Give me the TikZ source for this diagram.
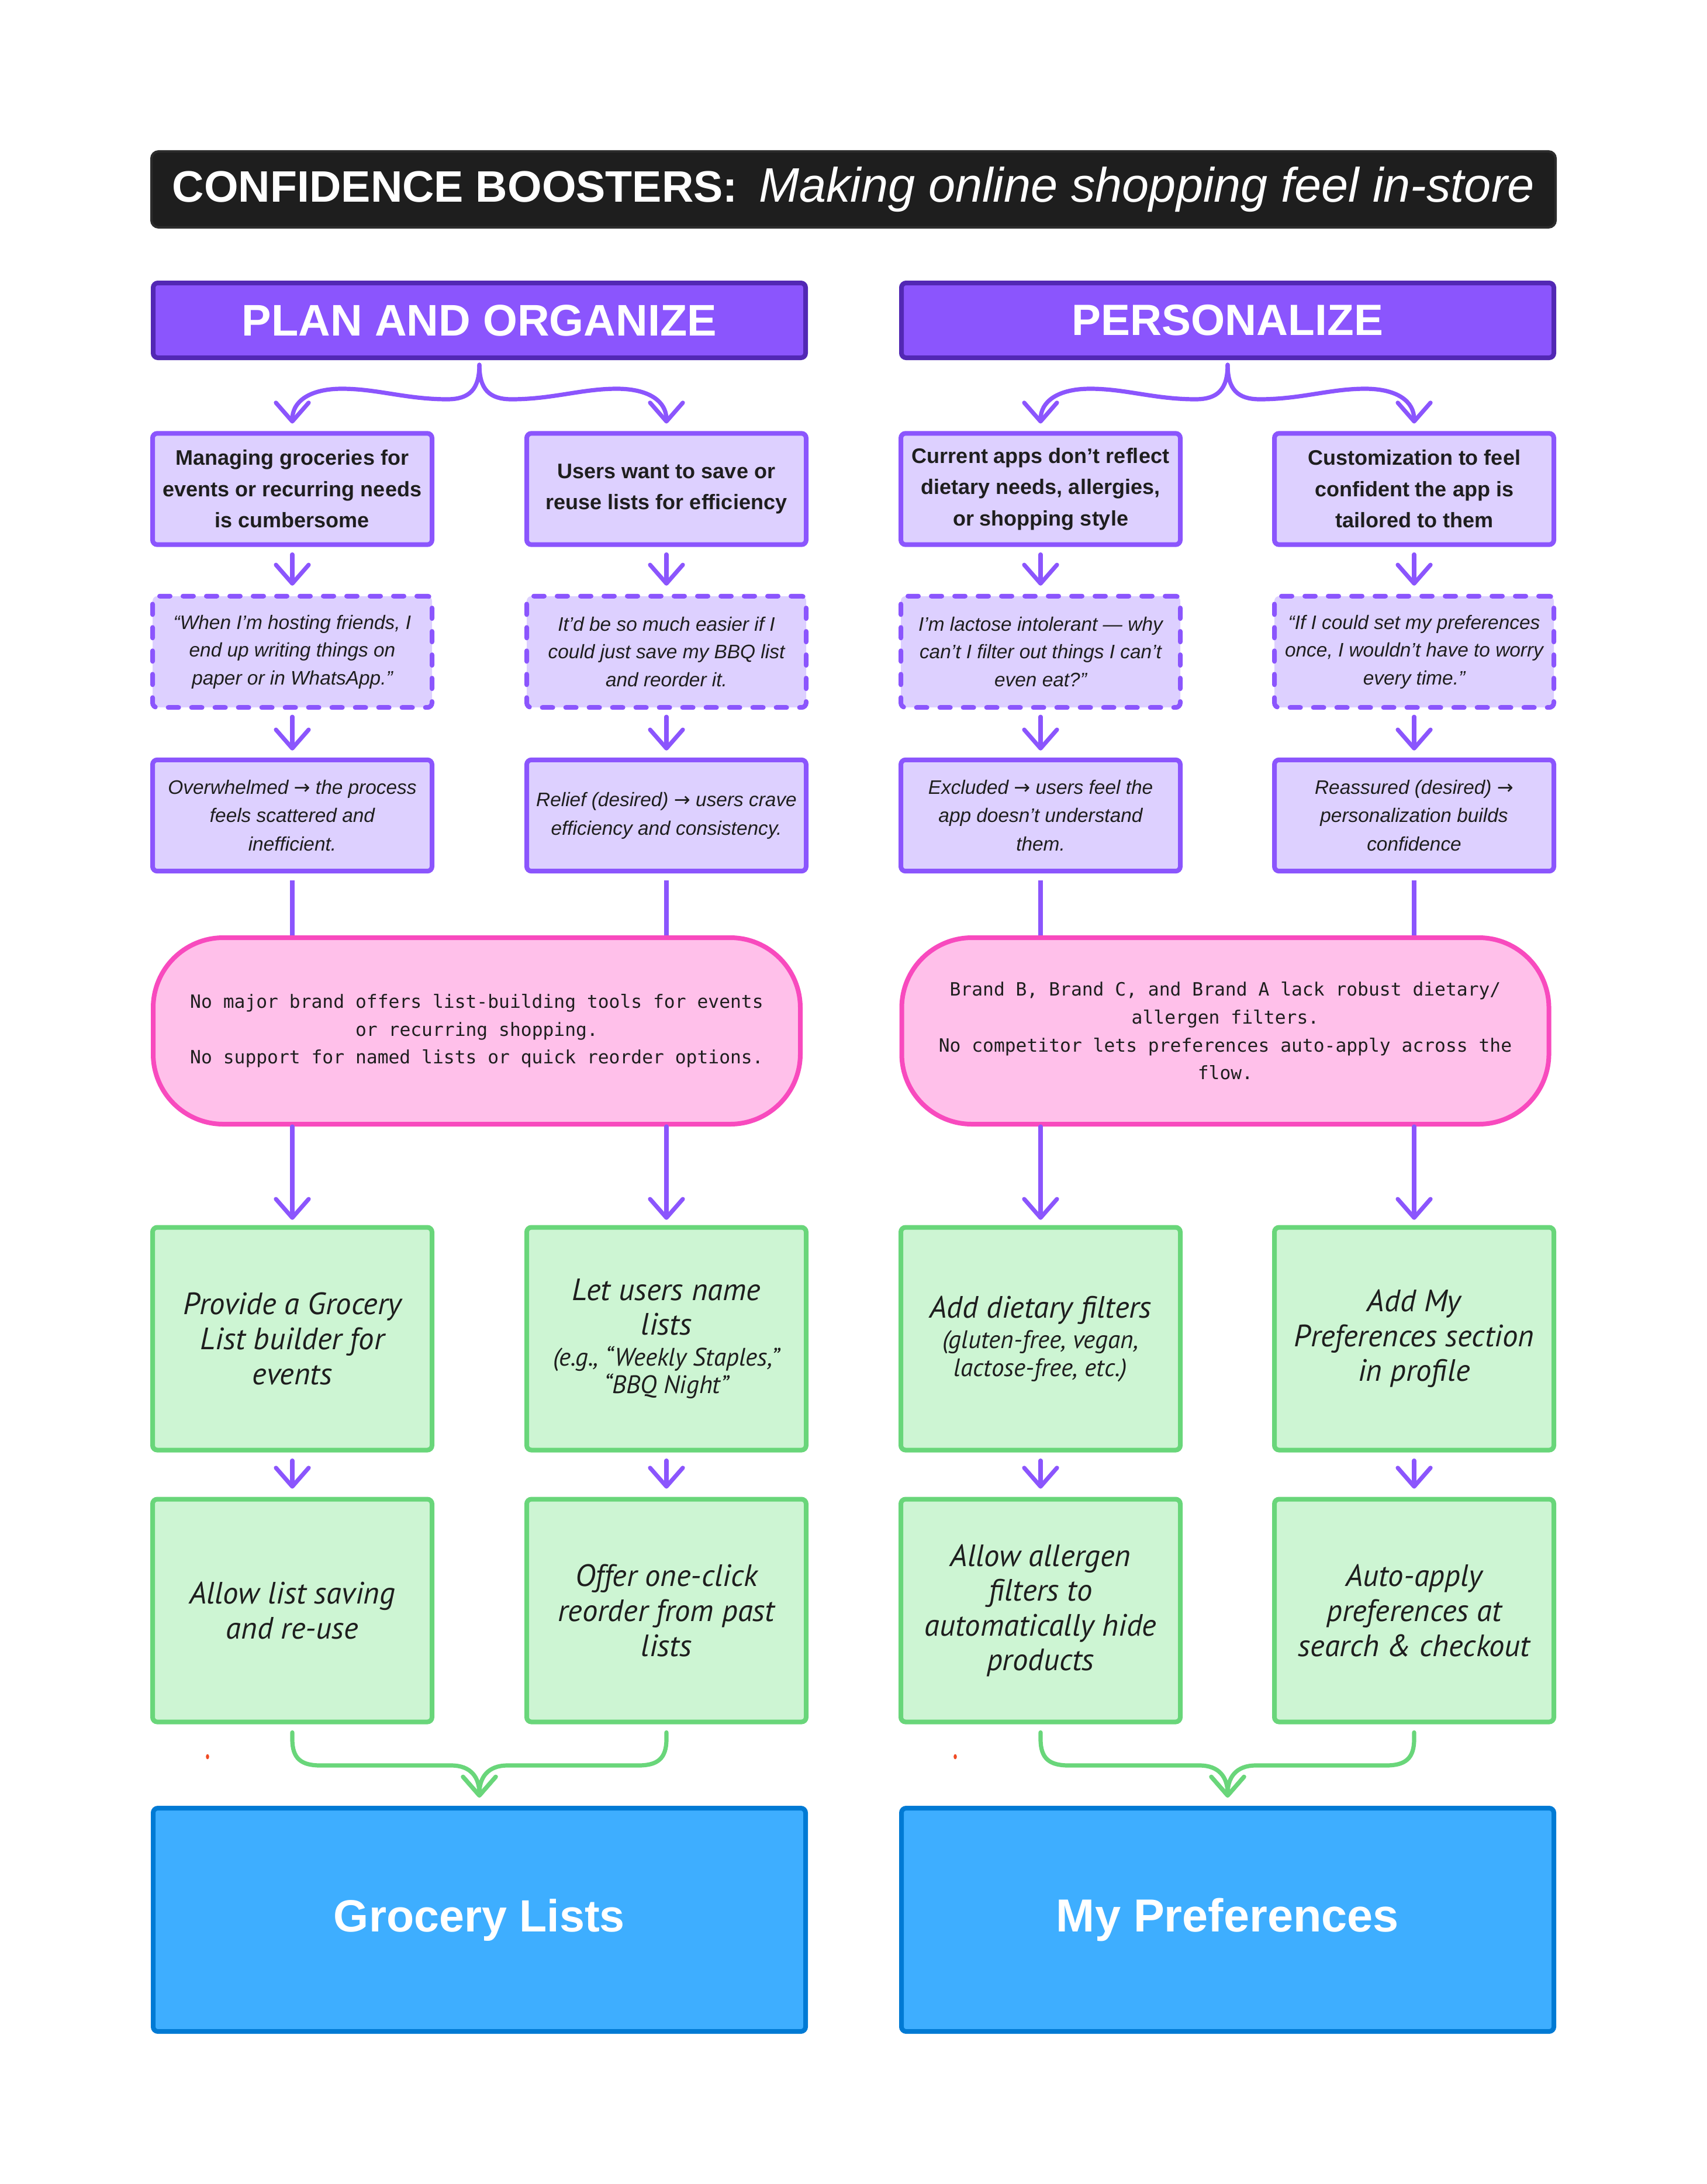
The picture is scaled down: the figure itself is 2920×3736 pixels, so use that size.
\documentclass[tikz,border=0pt]{standalone}
\usepackage{fontspec}
\usepackage{graphicx}
\setmainfont{Liberation Sans}
\setmonofont{DejaVu Sans Mono}
\newfontfamily\handfont{PT Sans}
\newfontfamily\arrowfont{DejaVu Sans}
\newcommand{\myarrow}{{\arrowfont\char"2192}}
\usetikzlibrary{arrows.meta}
\definecolor{ink}{HTML}{1E1E1E}
\definecolor{titlebg}{HTML}{1E1E1E}
\definecolor{titleline}{HTML}{2C2C2C}
\definecolor{vio}{HTML}{8B55FD}
\definecolor{viodark}{HTML}{5228B4}
\definecolor{viofill}{HTML}{DDD0FF}
\definecolor{pinkline}{HTML}{F84ABE}
\definecolor{pinkfill}{HTML}{FFC0EA}
\definecolor{grline}{HTML}{69D67A}
\definecolor{grfill}{HTML}{CDF5D3}
\definecolor{blline}{HTML}{007AD4}
\definecolor{blfill}{HTML}{3EAEFF}
\definecolor{dotred}{HTML}{F04A24}
\newcommand{\smallhand}{\fontsize{10.8}{11.9}\selectfont}
\begin{document}
\begin{tikzpicture}[x=0.25pt,y=-0.25pt,
  titlebox/.style={draw=titleline, fill=titlebg, line width=1pt, rounded corners=3pt,
    minimum width=600.5pt, minimum height=32.5pt, inner sep=0pt, text=white},
  hdrbox/.style={draw=viodark, fill=vio, line width=2pt, rounded corners=2pt,
    minimum width=279pt, minimum height=32pt, inner sep=0pt, text=white},
  vbox/.style={draw=vio, fill=viofill, line width=2pt, rounded corners=2pt,
    minimum width=119.5pt, minimum height=47.6pt, inner sep=0pt, align=center, text=ink},
  probbox/.style={vbox, font=\bfseries\fontsize{9}{13.4}\selectfont},
  quotebox/.style={vbox, dash pattern=on 4.5pt off 5.5pt, line cap=round,
    font=\itshape\fontsize{8.35}{11.9}\selectfont},
  feelbox/.style={vbox, font=\itshape\fontsize{8.35}{12.2}\selectfont},
  pinkbox/.style={draw=pinkline, fill=pinkfill, line width=2pt, rounded corners=30pt,
    minimum width=276.75pt, minimum height=79.75pt, inner sep=0pt, align=center, text=ink,
    font=\ttfamily\fontsize{7.83}{11.9}\selectfont},
  grbox/.style={draw=grline, fill=grfill, line width=2pt, rounded corners=2pt,
    minimum width=119.5pt, minimum height=95.25pt, inner sep=0pt, align=center, text=ink,
    font=\handfont\itshape\fontsize{13.2}{14.9}\selectfont},
  bluebox/.style={draw=blline, fill=blfill, line width=2pt, rounded corners=2pt,
    minimum width=279pt, minimum height=95.5pt, inner sep=0pt, text=white},
  arr/.style={draw=vio, line width=1.8pt, line cap=round,
    -{Straight Barb[length=8pt,width=14pt,round]}},
  conn/.style={draw=vio, line width=1.8pt},
  merge/.style={draw=grline, line width=1.8pt, line cap=round,
    -{Straight Barb[length=8pt,width=14pt,round]}}
]
\fill[white] (0,0) rectangle (2920,3736);
\useasboundingbox (0,0) rectangle (2920,3736);

% title
\node[titlebox] (title) at (1460,324)
  {\resizebox{241.75pt}{!}{\bfseries CONFIDENCE BOOSTERS:}\hspace{9pt}\resizebox{331.75pt}{!}{\itshape Making online shopping feel in-store}};

% headers
\node[hdrbox] (hdrL) at (820,548) {\resizebox{203pt}{!}{\bfseries PLAN AND ORGANIZE}};
\node[hdrbox] (hdrR) at (2100,548) {\resizebox{133pt}{!}{\bfseries PERSONALIZE}};

% row 1
\node[probbox] (p1) at (500,836.5) {Managing groceries for\\events or recurring needs\\is cumbersome};
\node[probbox] (p2) at (1140,836.5) {Users want to save or\\reuse lists for efficiency};
\node[probbox] (p3) at (1780,836.5) {Current apps don’t reflect\\dietary needs, allergies,\\or shopping style};
\node[probbox] (p4) at (2419,836.5) {Customization to feel\\confident the app is\\tailored to them};

% row 2
\node[quotebox] (q1) at (500,1115) {“When I’m hosting friends, I\\end up writing things on\\paper or in WhatsApp.”};
\node[quotebox] (q2) at (1140,1115) {It’d be so much easier if I\\could just save my BBQ list\\and reorder it.};
\node[quotebox] (q3) at (1780,1115) {I’m lactose intolerant — why\\can’t I filter out things I can’t\\even eat?”};
\node[quotebox] (q4) at (2419,1115) {“If I could set my preferences\\once, I wouldn’t have to worry\\every time.”};

% row 3
\node[feelbox] (e1) at (500,1395) {Overwhelmed \myarrow\ the process\\feels scattered and\\inefficient.};
\node[feelbox] (e2) at (1140,1395) {Relief (desired) \myarrow\ users crave\\efficiency and consistency.};
\node[feelbox] (e3) at (1780,1395) {Excluded \myarrow\ users feel the\\app doesn’t understand\\them.};
\node[feelbox] (e4) at (2419,1395) {Reassured (desired) \myarrow\\personalization builds\\confidence};

% pink
\node[pinkbox] (pinkL) at (815.5,1763.5) {No major brand offers list-building tools for events\\or recurring shopping.\\No support for named lists or quick reorder options.};
\node[pinkbox] (pinkR) at (2096,1763.5) {Brand B, Brand C, and Brand A lack robust dietary/\\allergen filters.\\No competitor lets preferences auto-apply across the\\flow.};

% green row 1
\node[grbox] (g1) at (500,2290) {Provide a Grocery\\List builder for\\events};
\node[grbox] (g2) at (1140,2290) {Let users name\\lists\\[-1.8pt]{\smallhand (e.g., “Weekly Staples,”}\\[-3pt]{\smallhand “BBQ Night”}};
\node[grbox] (g3) at (1780,2290) {Add dietary filters\\[-1.8pt]{\smallhand (gluten-free, vegan,}\\[-3pt]{\smallhand lactose-free, etc.)}};
\node[grbox] (g4) at (2419,2290) {Add My\\Preferences section\\in profile};

% green row 2
\node[grbox] (h1) at (500,2755) {Allow list saving\\and re-use};
\node[grbox] (h2) at (1140,2755) {Offer one-click\\reorder from past\\lists};
\node[grbox] (h3) at (1780,2755) {Allow allergen\\filters to\\automatically hide\\products};
\node[grbox] (h4) at (2419,2755) {Auto-apply\\preferences at\\search \& checkout};

% blue
\node[bluebox] (blueL) at (820,3284) {\resizebox{124.5pt}{!}{\bfseries Grocery Lists}};
\node[bluebox] (blueR) at (2100,3284) {\resizebox{146.5pt}{!}{\bfseries My Preferences}};

% braces from headers
\draw[arr] ([yshift=-2pt]hdrL.south) .. controls +(0,42) and +(38,0) .. (765,683)
  .. controls +(-70,0) and +(60,0) .. (585,665)
  .. controls +(-55,0) and +(0,-38) .. ([yshift=3.2pt]p1.north);
\draw[arr] ([yshift=-2pt]hdrL.south) .. controls +(0,42) and +(-38,0) .. (875,683)
  .. controls +(70,0) and +(-60,0) .. (1055,665)
  .. controls +(55,0) and +(0,-38) .. ([yshift=3.2pt]p2.north);
\draw[arr] ([yshift=-2pt]hdrR.south) .. controls +(0,42) and +(38,0) .. (2045,683)
  .. controls +(-70,0) and +(60,0) .. (1865,665)
  .. controls +(-55,0) and +(0,-38) .. ([yshift=3.2pt]p3.north);
\draw[arr] ([yshift=-2pt]hdrR.south) .. controls +(0,42) and +(-38,0) .. (2155,683)
  .. controls +(70,0) and +(-60,0) .. (2335,665)
  .. controls +(55,0) and +(0,-38) .. ([yshift=3.2pt]p4.north);

% vertical arrows
\foreach \i in {1,2,3,4} {
  \draw[arr] ([yshift=-3.2pt]p\i.south) -- ([yshift=3.5pt]q\i.north);
  \draw[arr] ([yshift=-3pt]q\i.south) -- ([yshift=3pt]e\i.north);
  \draw[arr] ([yshift=-3.5pt]g\i.south) -- ([yshift=3.5pt]h\i.north);
}

% to pink
\draw[conn] ([yshift=-3pt]e1.south) -- (e1.south |- pinkL.north);
\draw[conn] ([yshift=-3pt]e2.south) -- (e2.south |- pinkL.north);
\draw[conn] ([yshift=-3pt]e3.south) -- (e3.south |- pinkR.north);
\draw[conn] ([yshift=-3pt]e4.south) -- (e4.south |- pinkR.north);

% pink to green
\draw[arr] (g1.north |- pinkL.south) -- ([yshift=2.2pt]g1.north);
\draw[arr] (g2.north |- pinkL.south) -- ([yshift=2.2pt]g2.north);
\draw[arr] (g3.north |- pinkR.south) -- ([yshift=2.2pt]g3.north);
\draw[arr] (g4.north |- pinkR.south) -- ([yshift=2.2pt]g4.north);

% merges
\draw[merge] ([yshift=-3.5pt]h1.south) -- (500,2975) .. controls (500,3008) and (515,3020) .. (548,3020)
  -- (772,3020) .. controls (805,3020) and (820,3040) .. ([yshift=3.5pt]blueL.north);
\draw[merge] ([yshift=-3.5pt]h2.south) -- (1140,2975) .. controls (1140,3008) and (1125,3020) .. (1092,3020)
  -- (868,3020) .. controls (835,3020) and (820,3040) .. ([yshift=3.5pt]blueL.north);
\draw[merge] ([yshift=-3.5pt]h3.south) -- (1780,2975) .. controls (1780,3008) and (1795,3020) .. (1828,3020)
  -- (2052,3020) .. controls (2085,3020) and (2100,3040) .. ([yshift=3.5pt]blueR.north);
\draw[merge] ([yshift=-3.5pt]h4.south) -- (2419,2975) .. controls (2419,3008) and (2404,3020) .. (2371,3020)
  -- (2148,3020) .. controls (2115,3020) and (2100,3040) .. ([yshift=3.5pt]blueR.north);

% red dots
\fill[dotred] (355,3005) ellipse [x radius=0.7pt, y radius=1.1pt];
\fill[dotred] (1634,3005) ellipse [x radius=0.7pt, y radius=1.1pt];
\end{tikzpicture}
\end{document}
